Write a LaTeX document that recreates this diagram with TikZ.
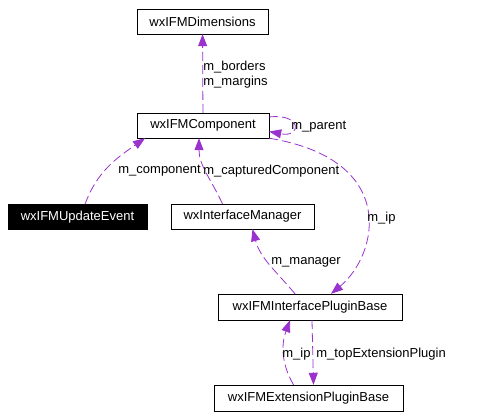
\documentclass[tikz,border=0pt]{standalone}
\usepackage{fontspec}
\setmainfont{Liberation Sans}
\usetikzlibrary{arrows.meta}
\definecolor{edgecol}{HTML}{9A32CD}

\begin{document}
\begin{tikzpicture}[x=1pt, y=-1pt,
    font=\fontsize{13}{15}\selectfont,
    box/.style={rectangle, draw, fill=white, inner sep=0pt, minimum height=25pt, text centered},
    darkbox/.style={box, fill=black, text=white},
    link/.style={edgecol, line width=0.8pt, dash pattern=on 9pt off 4pt, ->, >={Triangle[length=12pt,width=9pt]}},
    lbl/.style={inner sep=0pt, anchor=west, text=black, align=left}]
    \useasboundingbox (0,0) rectangle (480,418);

    % Classes
    \node [box, minimum width=131pt] (dim) at (202.5,21.5) {wxIFMDimensions};
    \node [box, minimum width=132pt] (comp) at (203,125.5) {wxIFMComponent};
    \node [darkbox, minimum width=139pt] (upd) at (77.5,217) {wxIFMUpdateEvent};
    \node [box, minimum width=143pt] (mgr) at (242.5,216.5) {wxInterfaceManager};
    \node [box, minimum width=184pt, minimum height=26pt] (ipb) at (310,307) {wxIFMInterfacePluginBase};
    \node [box, minimum width=189pt, minimum height=26pt] (epb) at (308.5,398) {wxIFMExtensionPluginBase};

    % Members
    \draw [link] (comp) -- (dim) node [lbl] at (203,74.5) {m\_borders\\m\_margins};
    \draw [link] ([yshift=8.5pt]comp.east) .. controls (302,113) and (302,138) .. ([yshift=-6pt]comp.east)
        node [lbl] at (291,127) {m\_parent};
    \draw [link] ([xshift=7.5pt]upd.north) to[out=70, in=-145] ([xshift=-58pt]comp.south)
        node [lbl] at (118,171) {m\_component};
    \draw [link] ([xshift=-20pt]mgr.north) to[out=115, in=-90] ([xshift=-4pt]comp.south)
        node [lbl] at (203,171) {m\_capturedComponent};
    \draw [link] (comp.south east) .. controls (400,160) and (378,255) .. ([xshift=21pt]ipb.north)
        node [lbl] at (367,218) {m\_ip};
    \draw [link] ([xshift=-15pt]ipb.north) to[out=130, in=-75] ([xshift=10pt]mgr.south)
        node [lbl] at (271,262) {m\_manager};
    \draw [link] ([xshift=-15pt]epb.north) to[out=120, in=-110] ([xshift=-20pt]ipb.south)
        node [lbl] at (282,354) {m\_ip};
    \draw [link] ([xshift=2pt]ipb.south) -- ([xshift=5pt]epb.north)
        node [lbl] at (316,354) {m\_topExtensionPlugin};

\end{tikzpicture}
\end{document}
